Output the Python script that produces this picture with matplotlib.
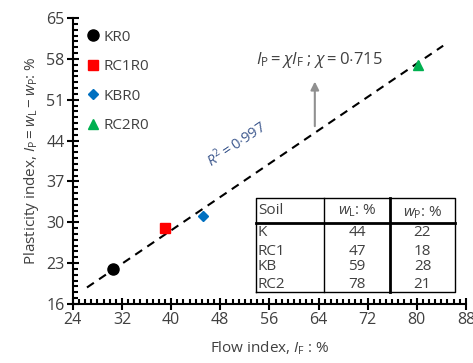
import numpy as np
import matplotlib
matplotlib.use("Agg")
import matplotlib.pyplot as plt
from matplotlib.ticker import MultipleLocator, FixedLocator

plt.rcParams['font.family'] = ['Open Sans', 'DejaVu Sans']
plt.rcParams['mathtext.fontset'] = 'custom'
plt.rcParams['mathtext.rm'] = 'Open Sans'
plt.rcParams['mathtext.it'] = 'Open Sans:italic'

# data
labels = ["KR0", "RC1R0", "KBR0", "RC2R0"]
soils = ["K", "RC1", "KB", "RC2"]
wL = np.array([44, 47, 59, 78])
wP = np.array([22, 18, 28, 21])
IF = np.array([30.5, 39.0, 45.2, 80.2])
IP = wL - wP
chi = 0.715
r2 = 0.997
line_x = np.array([26.3, 84.3])
yticks = [16, 23, 30, 37, 44, 51, 58, 65]

markers = ["o", "s", "D", "^"]
colors = ["#000000", "#ff0000", "#0070c0", "#00b050"]
sizes = [8, 7.5, 5.5, 7.5]
txt = "#404040"

fig = plt.figure(figsize=(4.73, 3.63), dpi=100)
ax = fig.add_axes([0.154, 0.163, 0.831, 0.787])

ax.plot(line_x, chi * line_x, ls=(0, (4, 3)), color="black", lw=1.5, zorder=2)
for i in range(len(labels)):
    ax.plot(IF[i], IP[i], ls="none", marker=markers[i], color=colors[i],
            ms=sizes[i], label=labels[i], zorder=3)

ax.set_xlim(24, 88)
ax.set_ylim(16, 65)
ax.xaxis.set_major_locator(MultipleLocator(8))
ax.xaxis.set_minor_locator(MultipleLocator(1))
ax.yaxis.set_major_locator(FixedLocator(yticks))
ax.yaxis.set_minor_locator(MultipleLocator(1))
for s in ["top", "right"]:
    ax.spines[s].set_visible(False)
for s in ["left", "bottom"]:
    ax.spines[s].set_linewidth(1.5)
ax.tick_params(which="major", direction="inout", length=8, width=1.5,
               labelsize=11.5, labelcolor=txt, pad=2)
ax.tick_params(which="minor", direction="in", length=3.5, width=1.5)

ax.set_xlabel(r"Flow index, $I_\mathrm{F}$ : %", fontsize=11, color=txt, labelpad=8)
ax.set_ylabel(r"Plasticity index, $I_\mathrm{P} = w_\mathrm{L} - w_\mathrm{P}$: %",
              fontsize=11, color=txt, labelpad=4)

leg = ax.legend(loc="upper left", bbox_to_anchor=(0.0, 0.997), frameon=False,
                fontsize=11, handletextpad=0.1, labelspacing=0.95,
                handlelength=1.2, borderaxespad=0.3)
for t in leg.get_texts():
    t.set_color(txt)

ax.text(64.2, 57.8, r"$I_\mathrm{P} = \chi I_\mathrm{F}$ ; $\chi = 0{\cdot}715$",
        fontsize=12, color=txt, ha="center", va="center")
ax.annotate("", xy=(63.4, 54.6), xytext=(63.4, 46.0),
            arrowprops=dict(arrowstyle="-|>", color="#909090", lw=1.5,
                            mutation_scale=12))
ax.text(50.6, 43.4, r"$R^2 = 0{\cdot}997$", fontsize=10.5, color="#3f5a8f",
        ha="center", va="center", rotation=34)

# inset table
tr = ax.transAxes
x0, c1, c2, x1 = 0.466, 0.639, 0.807, 0.972
y0, yh, y1 = 0.042, 0.283, 0.371
ax.plot([x0, x1, x1, x0, x0], [y0, y0, y1, y1, y0], color="black", lw=1,
        transform=tr, clip_on=False)
ax.plot([x0, x1], [yh, yh], color="black", lw=2, transform=tr)
ax.plot([c1, c1], [y0, y1], color="black", lw=1, transform=tr)
ax.plot([c2, c2], [y0, y1], color="black", lw=2, transform=tr)
ax.text(x0 + 0.005, 0.325, "Soil", transform=tr, fontsize=11, color=txt,
        ha="left", va="center")
ax.text((c1 + c2) / 2, 0.325, r"$w_\mathrm{L}$: %", transform=tr,
        fontsize=11, color=txt, ha="center", va="center")
ax.text((c2 + x1) / 2, 0.320, r"$w_\mathrm{P}$: %", transform=tr,
        fontsize=11, color=txt, ha="center", va="center")
row_y = [0.248, 0.182, 0.129, 0.068]
for i in range(len(soils)):
    ax.text(x0 + 0.005, row_y[i], soils[i], transform=tr, fontsize=11,
            color=txt, ha="left", va="center")
    ax.text((c1 + c2) / 2, row_y[i], str(wL[i]), transform=tr, fontsize=11,
            color=txt, ha="center", va="center")
    ax.text((c2 + x1) / 2, row_y[i], str(wP[i]), transform=tr, fontsize=11,
            color=txt, ha="center", va="center")

fig.savefig("out.png", dpi=100)
